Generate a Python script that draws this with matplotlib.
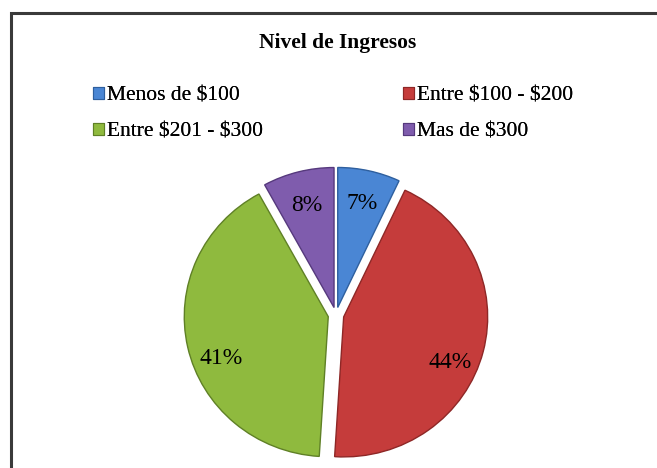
import matplotlib
matplotlib.use("Agg")
import numpy as np
import matplotlib.pyplot as plt
from matplotlib.patches import Rectangle, Patch

plt.rcParams["text.parse_math"] = False

categories = ["Menos de $100", "Entre $100 - $200", "Entre $201 - $300", "Mas de $300"]
values = [7, 44, 41, 8]
colors = ["#4a86d4", "#c53c3b", "#8fba3e", "#7f5cad"]
edges = ["#2e5f9e", "#8e2726", "#5f8026", "#56397d"]
title = "Nivel de Ingresos"

W, H = 657, 468
fig = plt.figure(figsize=(W / 100, H / 100), dpi=100)
fig.patch.set_facecolor("white")

# chart frame (cut off at right and bottom)
fig.add_artist(Rectangle((10.5 / W, -0.05), 1.2, 1 - 12.5 / H + 0.05,
                         transform=fig.transFigure, fill=False,
                         edgecolor="#3a3a3a", linewidth=2.2, zorder=0))

serif = ["Liberation Serif", "DejaVu Serif"]

fig.text(338 / W, 1 - 43 / H, title, ha="center", va="center",
         fontsize=15.5, fontweight="bold", family=serif)

# pie axes
cx, cy = 336, 315
rx, ry = 144, 140
aw, ah = 2.4 * rx, 2.4 * ry
ax = fig.add_axes([(cx - aw / 2) / W, (H - cy - ah / 2) / H, aw / W, ah / H])
wedges, texts, autotexts = ax.pie(
    values, colors=colors, startangle=90, counterclock=False,
    explode=[0.055] * 4, autopct="%1.0f%%", pctdistance=0.8,
    wedgeprops=dict(linewidth=1.0),
    textprops=dict(fontsize=17, family=serif, color="black"))
for w, e in zip(wedges, edges):
    w.set_edgecolor(e)
for w, t in zip(wedges, autotexts):
    th = np.deg2rad((w.theta1 + w.theta2) / 2)
    x, y = t.get_position()
    c = np.cos(th)
    t.set_position((x - 0.035 * c, y - (0.015 + 0.115 * abs(c))))
ax.set_aspect("auto")
ax.set_xlim(-1.2, 1.2)
ax.set_ylim(-1.2, 1.2)
ax.axis("off")

# legend: two columns, placed separately
columns = [[0, 2], [1, 3]]
col_x = [93, 403]
for idx, x0 in zip(columns, col_x):
    handles = [Patch(facecolor=colors[i], edgecolor=edges[i], linewidth=0.8) for i in idx]
    labels = [categories[i] for i in idx]
    leg = fig.legend(handles, labels, ncol=1, loc="upper left",
                     bbox_to_anchor=(x0 / W, 1 - 87 / H),
                     frameon=False, prop=dict(family=serif, size=15.5),
                     handlelength=0.5, handleheight=0.5, handletextpad=0.15,
                     labelspacing=0.78, borderaxespad=0, borderpad=0)
    fig.add_artist(leg)

fig.savefig("out.png", dpi=100, facecolor="white")
